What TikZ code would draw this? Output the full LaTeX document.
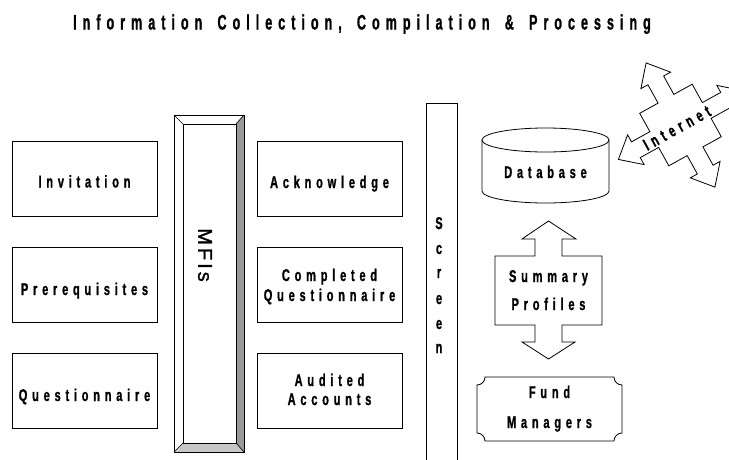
\documentclass[tikz,border=0pt]{standalone}
\usepackage{fontspec}
\newfontfamily\titlefont[FakeStretch=0.6,LetterSpace=28.5,WordSpace=1.6,FakeBold=1]{Liberation Sans}
\newfontfamily\boxfont[FakeStretch=0.65,LetterSpace=28,FakeBold=1]{Liberation Sans}
\newfontfamily\mfifont[LetterSpace=15,FakeBold=1.5]{Liberation Sans}
\begin{document}
\begin{tikzpicture}[x=1pt,y=-1pt,
  every node/.style={inner sep=0pt, outer sep=0pt},
  boxst/.style={draw=black, line width=0.8pt, minimum width=145pt, minimum height=75pt},
  lbl/.style={anchor=base, font=\boxfont\bfseries\fontsize{17}{20}\selectfont},
  outl/.style={draw=black, line width=0.8pt, line join=miter}]
\useasboundingbox (0,0) rectangle (729,459);
\begin{scope}
\clip (0,0) rectangle (729,459);
% title
\node[anchor=base, font=\titlefont\bfseries\fontsize{21}{24}\selectfont] (title) at (362,29.5) {Information Collection, Compilation \& Processing};

% left boxes
\node[boxst] (inv) at (84.5,178.5) {};
\node[boxst] (pre) at (84.5,284.5) {};
\node[boxst] (que) at (84.5,390.5) {};
\node[lbl] (invt) at (84.5,187.5) {Invitation};
\node[lbl] (pret) at (84.5,295) {Prerequisites};
\node[lbl] (quet) at (84.5,401) {Questionnaire};

% middle boxes
\node[boxst] (ack) at (329.5,178.5) {};
\node[boxst] (cq) at (329.5,284.5) {};
\node[boxst] (aa) at (329.5,390.5) {};
\node[lbl] (ackt) at (329.5,188) {Acknowledge};
\node[lbl] (cqt1) at (329.5,281) {Completed};
\node[lbl] (cqt2) at (329.5,301) {Questionnaire};
\node[lbl] (aat1) at (329.5,386) {Audited};
\node[lbl] (aat2) at (329.5,405) {Accounts};

% MFIs bevelled bar
\fill[white] (174,115) rectangle (244,452);
\fill[black!40] (236,124) -- (244,115) -- (244,452) -- (236,443) -- cycle;
\fill[black!22] (183,443) -- (236,443) -- (244,452) -- (174,452) -- cycle;
\draw[outl] (174,115) rectangle (244,452);
\draw[outl] (183,124) rectangle (236,443);
\draw[outl, line width=0.6pt] (174,115) -- (183,124) (244,115) -- (236,124) (244,452) -- (236,443) (174,452) -- (183,443);
\node[rotate=-90, font=\mfifont\fontsize{20}{22}\selectfont] (mfis) at (205,255) {MFIs};

% Screen
\draw[outl] (426,462) -- (426,103) -- (457,103) -- (457,462);
\node[lbl] (s1) at (439,229) {S};
\node[lbl] (s2) at (439,254) {c};
\node[lbl] (s3) at (439,278) {r};
\node[lbl] (s4) at (439,304) {e};
\node[lbl] (s5) at (439,329) {e};
\node[lbl] (s6) at (439,353) {n};

% Database
\draw[outl] (482,140) -- (482,191) arc[start angle=180, end angle=360, x radius=63.5pt, y radius=12pt] -- (609,140);
\draw[outl] (545.5,140) ellipse [x radius=63.5pt, y radius=12pt];
\node[lbl] (db) at (545.5,178) {Database};

% Summary Profiles double arrow
\draw[outl] (548.5,221) -- (576,239) -- (562,239) -- (562,256) -- (602,256) -- (602,325) -- (562,325) -- (562,342) -- (575,342)
  -- (548.5,359) -- (522,342) -- (535,342) -- (535,325) -- (495,325) -- (495,256) -- (535,256) -- (535,239) -- (522,239) -- cycle;
\node[lbl] (sp1) at (548.5,282) {Summary};
\node[lbl] (sp2) at (548.5,310) {Profiles};

% Fund Managers
\draw[outl] (485,377) -- (614,377) arc[start angle=180, end angle=270, radius=8pt] -- (622,433)
  arc[start angle=90, end angle=180, radius=8pt] -- (485,441)
  arc[start angle=0, end angle=90, radius=8pt] -- (477,385)
  arc[start angle=270, end angle=360, radius=8pt] -- cycle;
\node[lbl] (fm1) at (549.5,398) {Fund};
\node[lbl] (fm2) at (549.5,428) {Managers};

% Internet quad arrow
\begin{scope}[shift={(680.5,125)}, rotate=29]
\draw[outl] (0,-71) -- (17,-51) -- (9,-51) -- (9,-30) -- (30,-30) -- (30,-9) -- (51,-9) -- (51,-17) -- (71,0)
  -- (51,17) -- (51,9) -- (30,9) -- (30,30) -- (9,30) -- (9,51) -- (17,51) -- (0,71) -- (-17,51) -- (-9,51)
  -- (-9,30) -- (-30,30) -- (-30,9) -- (-51,9) -- (-51,17) -- (-71,0) -- (-51,-17) -- (-51,-9) -- (-30,-9)
  -- (-30,-30) -- (-9,-30) -- (-9,-51) -- (-17,-51) -- cycle;
\end{scope}
\node[rotate=29, font=\boxfont\bfseries\fontsize{17}{20}\selectfont] (inet) at (677,128) {Internet};
\end{scope}
\end{tikzpicture}
\end{document}
